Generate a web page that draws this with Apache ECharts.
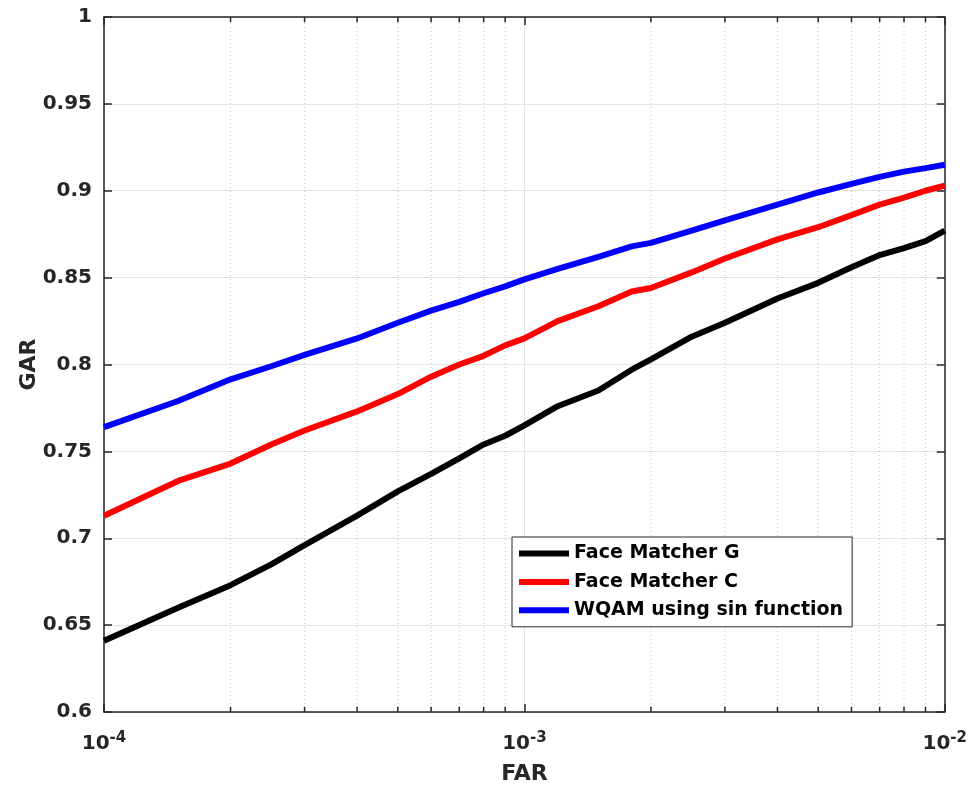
<!DOCTYPE html>
<html>
<head>
<meta charset="utf-8">
<script src="https://cdn.jsdelivr.net/npm/echarts@6/dist/echarts.min.js"></script>
<style>
  html, body { margin: 0; padding: 0; background: #fff; }
  #chart { width: 970px; height: 792px; }
</style>
</head>
<body>
<div id="chart"></div>
<script>
// FAR sample points (log axis)
const far = [1e-4, 1.5e-4, 2e-4, 2.5e-4, 3e-4, 4e-4, 5e-4, 6e-4, 7e-4, 8e-4, 9e-4,
  1e-3, 1.2e-3, 1.5e-3, 1.8e-3, 2e-3, 2.5e-3, 3e-3, 4e-3, 5e-3, 6e-3, 7e-3, 8e-3, 9e-3, 1e-2];

// GAR values
const garMatcherG = [0.641, 0.660, 0.673, 0.685, 0.696, 0.713, 0.727, 0.737, 0.746, 0.754, 0.759,
  0.765, 0.776, 0.785, 0.797, 0.803, 0.816, 0.824, 0.838, 0.847, 0.856, 0.863, 0.867, 0.871, 0.877];
const garMatcherC = [0.713, 0.733, 0.743, 0.754, 0.762, 0.773, 0.783, 0.793, 0.800, 0.805, 0.811,
  0.815, 0.825, 0.8335, 0.842, 0.844, 0.853, 0.861, 0.872, 0.879, 0.886, 0.892, 0.896, 0.900, 0.903];
const garWqam = [0.764, 0.779, 0.7915, 0.799, 0.8055, 0.815, 0.824, 0.831, 0.836, 0.841, 0.845,
  0.849, 0.855, 0.862, 0.868, 0.870, 0.877, 0.883, 0.892, 0.899, 0.904, 0.908, 0.911, 0.913, 0.915];

const seriesNames = ['Face Matcher G', 'Face Matcher C', 'WQAM using sin function'];
const seriesColors = ['#000000', '#ff0000', '#0000ff'];

// axis ranges and minor log grid positions
const farMin = 1e-4, farMax = 1e-2;
const garMin = 0.6, garMax = 1, garStep = 0.05;
const minorFar = [2e-4, 3e-4, 4e-4, 5e-4, 6e-4, 7e-4, 8e-4, 9e-4,
  2e-3, 3e-3, 4e-3, 5e-3, 6e-3, 7e-3, 8e-3, 9e-3];
const minorTickLen = 0.003; // in GAR units, about 5px

const textColor = '#262626';
const fontFamily = '"DejaVu Sans", "Liberation Sans", sans-serif';

const chart = echarts.init(document.getElementById('chart'));

const toPairs = (ys) => far.map((x, i) => [x, ys[i]]);

// vertical segments at minor positions, broken with '-'
const minorGrid = [];
const minorTicks = [];
minorFar.forEach((x) => {
  minorGrid.push([x, garMin], [x, garMax], [x, '-']);
  minorTicks.push([x, garMin], [x, garMin + minorTickLen], [x, '-']);
  minorTicks.push([x, garMax - minorTickLen], [x, garMax], [x, '-']);
});

const option = {
  animation: false,
  backgroundColor: '#fff',
  textStyle: { fontFamily },
  grid: { left: 104, right: 25, top: 17, bottom: 80, containLabel: false },
  legend: {
    orient: 'vertical',
    left: 512,
    top: 537,
    padding: [7, 9, 7, 7],
    itemGap: 9.4,
    itemWidth: 50,
    itemHeight: 6,
    icon: 'rect',
    backgroundColor: '#fff',
    borderColor: '#262626',
    borderWidth: 1,
    borderRadius: 0,
    textStyle: { fontSize: 19, fontWeight: 'bold', color: '#000', fontFamily },
    data: seriesNames
  },
  xAxis: [
    {
      type: 'log',
      logBase: 10,
      min: farMin,
      max: farMax,
      name: 'FAR',
      nameLocation: 'middle',
      nameGap: 51,
      nameMoveOverlap: false,
      nameTextStyle: { fontSize: 22, fontWeight: 'bold', color: textColor, fontFamily },
      axisLine: { show: true, lineStyle: { color: textColor, width: 1.5 } },
      axisTick: { show: true, inside: true, length: 8, lineStyle: { color: textColor, width: 1.5 } },
      axisLabel: {
        margin: 19,
        formatter: (v) => '{b|10}{s|' + Math.round(Math.log10(v)) + '}',
        rich: {
          b: { fontSize: 20, fontWeight: 'bold', color: textColor, lineHeight: 26, fontFamily },
          s: { fontSize: 15, fontWeight: 'bold', color: textColor, lineHeight: 14, verticalAlign: 'top', fontFamily }
        }
      },
      splitLine: { show: true, lineStyle: { color: '#e3e3e3', width: 1 } }
    },
    {
      type: 'log',
      logBase: 10,
      min: farMin,
      max: farMax,
      position: 'top',
      axisLine: { show: true, lineStyle: { color: textColor, width: 1.5 } },
      axisTick: { show: true, inside: true, length: 8, lineStyle: { color: textColor, width: 1.5 } },
      axisLabel: { show: false },
      splitLine: { show: false }
    }
  ],
  yAxis: [
    {
      type: 'value',
      min: garMin,
      max: garMax,
      interval: garStep,
      name: 'GAR',
      nameLocation: 'middle',
      nameGap: 64,
      nameMoveOverlap: false,
      nameTextStyle: { fontSize: 22, fontWeight: 'bold', color: textColor, fontFamily },
      axisLine: { show: true, lineStyle: { color: textColor, width: 1.5 } },
      axisTick: { show: true, inside: true, length: 8, lineStyle: { color: textColor, width: 1.5 } },
      axisLabel: { margin: 12, fontSize: 20, fontWeight: 'bold', color: textColor, fontFamily },
      splitLine: { show: true, lineStyle: { color: '#e3e3e3', width: 1 } }
    },
    {
      type: 'value',
      min: garMin,
      max: garMax,
      interval: garStep,
      position: 'right',
      axisLine: { show: true, lineStyle: { color: textColor, width: 1.5 } },
      axisTick: { show: true, inside: true, length: 8, lineStyle: { color: textColor, width: 1.5 } },
      axisLabel: { show: false },
      splitLine: { show: false }
    }
  ],
  series: [
    {
      // minor dotted grid for the log axis
      type: 'line',
      data: minorGrid,
      z: 1,
      silent: true,
      showSymbol: false,
      symbol: 'none',
      connectNulls: false,
      lineStyle: { type: [1, 3], color: '#c4c4c4', width: 1 },
      emphasis: { disabled: true }
    },
    {
      // minor ticks on bottom and top edges
      type: 'line',
      data: minorTicks,
      z: 4,
      silent: true,
      showSymbol: false,
      symbol: 'none',
      connectNulls: false,
      lineStyle: { color: textColor, width: 1.5 },
      emphasis: { disabled: true }
    },
    ...[garMatcherG, garMatcherC, garWqam].map((ys, i) => ({
      name: seriesNames[i],
      type: 'line',
      data: toPairs(ys),
      z: 3,
      showSymbol: false,
      symbol: 'none',
      smooth: false,
      lineStyle: { color: seriesColors[i], width: 6 },
      itemStyle: { color: seriesColors[i] }
    }))
  ]
};

chart.setOption(option);
</script>
</body>
</html>
